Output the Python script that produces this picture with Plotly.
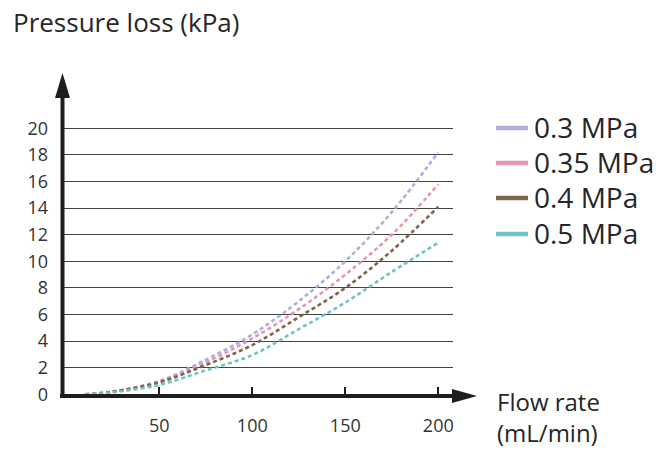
import plotly.graph_objects as go

# ---- data ----
flow = [10, 25, 50, 75, 100, 125, 150, 175, 200]
p03 = [0.0, 0.2, 1.0, 2.6, 4.5, 7.0, 10.0, 13.7, 18.2]
p035 = [0.0, 0.2, 0.95, 2.4, 4.2, 6.4, 9.0, 12.0, 15.8]
p04 = [0.0, 0.2, 0.9, 2.2, 3.7, 5.8, 8.0, 10.8, 14.1]
p05 = [0.0, 0.15, 0.7, 1.8, 2.95, 4.9, 6.9, 9.2, 11.4]
series_names = ["0.3 MPa", "0.35 MPa", "0.4 MPa", "0.5 MPa"]
series_vals = [p03, p035, p04, p05]
colors = ["#aeb0dc", "#e797b3", "#7a664a", "#6cc5c6"]
x_ticks = [50, 100, 150, 200]
y_ticks = [0, 2, 4, 6, 8, 10, 12, 14, 16, 18, 20]

FONT = "Open Sans"
TXT = "#262626"
W, H = 664, 450
L, R, T, B = 62, 211, 127, 54
PW, PH = W - L - R, H - T - B

def px(x):
    return (x - L) / PW

def py(y):
    return (T + PH - y) / PH

fig = go.Figure()
for name, vals, c in zip(series_names, series_vals, colors):
    fig.add_trace(go.Scatter(x=flow, y=vals, mode="lines", name=name, showlegend=False,
                             line=dict(color=c, width=2.6, dash="4px,3px", shape="spline")))

ax_col = "#1e1e1e"
shapes = [
    dict(type="line", xref="paper", yref="paper", x0=px(60), x1=px(456), y0=py(396), y1=py(396),
         line=dict(color=ax_col, width=4)),
    dict(type="path", xref="paper", yref="paper",
         path=f"M{px(452)},{py(389)} L{px(477)},{py(396)} L{px(452)},{py(403)} Z",
         fillcolor=ax_col, line=dict(width=0)),
    dict(type="line", xref="paper", yref="paper", x0=px(62.5), x1=px(62.5), y0=py(398), y1=py(95),
         line=dict(color=ax_col, width=4)),
    dict(type="path", xref="paper", yref="paper",
         path=f"M{px(55)},{py(98)} L{px(62.5)},{py(73)} L{px(70)},{py(98)} Z",
         fillcolor=ax_col, line=dict(width=0)),
]

annotations = [
    dict(text="Pressure loss (kPa)", xref="paper", yref="paper", x=px(11), y=py(22),
         xanchor="left", yanchor="middle", showarrow=False,
         font=dict(family=FONT, size=26, color=TXT)),
    dict(text="Flow rate<br>(mL/min)", xref="paper", yref="paper", x=px(495), y=py(417),
         xanchor="left", yanchor="middle", align="left", showarrow=False,
         font=dict(family=FONT, size=24, color=TXT)),
]

# manual legend (line swatches + labels)
row_y = [128, 163, 198, 234]
for name, c, ry in zip(series_names, colors, row_y):
    shapes.append(dict(type="line", xref="paper", yref="paper", x0=px(496), x1=px(528),
                       y0=py(ry), y1=py(ry), line=dict(color=c, width=4.5)))
    annotations.append(dict(text=name, xref="paper", yref="paper", x=px(532), y=py(ry - 1),
                            xanchor="left", yanchor="middle", showarrow=False,
                            font=dict(family=FONT, size=28, color=TXT)))

fig.update_layout(
    width=W, height=H,
    margin=dict(l=L, r=R, t=T, b=B),
    paper_bgcolor="white", plot_bgcolor="white",
    font=dict(family=FONT, color="#333333"),
    shapes=shapes, annotations=annotations,
    showlegend=False,
    xaxis=dict(range=[-2.3, 207.9], tickvals=x_ticks, ticks="inside", ticklen=9,
               tickwidth=1.5, tickcolor=ax_col, showgrid=False, zeroline=False,
               showline=False, ticklabelstandoff=17,
               tickfont=dict(family=FONT, size=18, color="#333333")),
    yaxis=dict(range=[-0.13, 20.1], tickvals=y_ticks, ticks="", showgrid=True,
               gridcolor="#444444", gridwidth=1, zeroline=False, showline=False,
               ticklabelstandoff=13,
               tickfont=dict(family=FONT, size=18, color="#333333")),
)

fig.write_html("out.html", config={"displayModeBar": False},
               post_script="document.body.style.margin='0';")
